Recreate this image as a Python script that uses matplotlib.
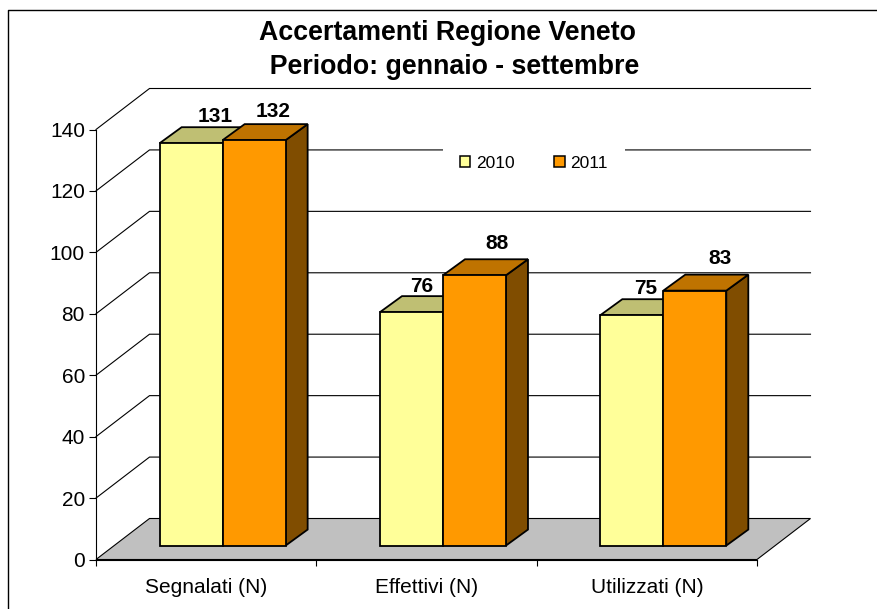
import numpy as np
import matplotlib
matplotlib.use("Agg")
import matplotlib.pyplot as plt
from matplotlib.patches import Polygon, Patch
from matplotlib.lines import Line2D

plt.rcParams['font.family'] = ['Liberation Sans', 'DejaVu Sans']

categories = ["Segnalati (N)", "Effettivi (N)", "Utilizzati (N)"]
series_names = ["2010", "2011"]
values_2010 = [131, 76, 75]
values_2011 = [132, 88, 83]
yticks = [0, 20, 40, 60, 80, 100, 120, 140]

# label offsets in pixels, labels were moved by hand in the original
nudge_x_2010 = [24, 10, 14]
nudge_x_2011 = [19, 23, 25]
nudge_y_2010 = [27, 26, 27]
nudge_y_2011 = [29, 32, 32]

W, H = 877, 609
fig = plt.figure(figsize=(W / 100, H / 100), dpi=100)
# axes is the front plane of the fake 3d box
left, right, top, bottom = 96, 757, 129.5, 559.5
ax = fig.add_axes([left / W, 1 - bottom / H, (right - left) / W, (bottom - top) / H])
ax.set_xlim(0, 3)
ax.set_ylim(0, 140)
ax.patch.set_visible(False)

px_x = 3 / (right - left)
px_y = 140 / (bottom - top)
depth_x = 53.5 * px_x
depth_y = 41 * px_y
LINE = 0.8

# chart border, only left and top show in the picture
fig.add_artist(Line2D([7.5 / W, 7.5 / W, 1], [0, 1 - 9.5 / H, 1 - 9.5 / H], transform=fig.transFigure,
                      color='black', lw=1.0))

# floor
ax.add_patch(Polygon([(0, 0), (depth_x, depth_y), (3 + depth_x, depth_y), (3, 0)], closed=True,
                     fc='#C0C0C0', ec='black', lw=LINE, clip_on=False, zorder=1))

# wall gridlines
for v in yticks[1:]:
    ax.plot([0, depth_x, 3 + depth_x], [v, v + depth_y, v + depth_y], color='black', lw=LINE,
            clip_on=False, zorder=1, solid_joinstyle='miter')

ox = 0.336 * depth_x
oy = 0.34 * depth_y


def bar3d(x0, x1, v, face, topc, side):
    dx = 22 * px_x
    dy = 16 * px_y
    kw = dict(closed=True, ec='black', lw=1.3, clip_on=False, zorder=3, joinstyle='miter')
    ax.add_patch(Polygon([(x1 + ox, oy), (x1 + ox + dx, oy + dy), (x1 + ox + dx, v + oy + dy), (x1 + ox, v + oy)], fc=side, **kw))
    ax.add_patch(Polygon([(x0 + ox, v + oy), (x0 + ox + dx, v + oy + dy), (x1 + ox + dx, v + oy + dy), (x1 + ox, v + oy)], fc=topc, **kw))
    ax.add_patch(Polygon([(x0 + ox, oy), (x1 + ox, oy), (x1 + ox, v + oy), (x0 + ox, v + oy)], fc=face, **kw))


bw = 63 * px_x
for i in range(len(categories)):
    c = i + 0.5 - 1.5 * px_x
    bar3d(c - bw, c, values_2010[i], '#FFFF99', '#BFBF73', '#808040')
    bar3d(c, c + bw, values_2011[i], '#FF9900', '#BF7300', '#804D00')
    labels = [(values_2010[i], c - bw / 2, nudge_x_2010[i], nudge_y_2010[i]),
              (values_2011[i], c + bw / 2, nudge_x_2011[i], nudge_y_2011[i])]
    for v, xc, nx, ny in labels:
        ax.annotate(str(v), xy=(xc + ox, v + oy), xytext=(nx * 0.72, ny * 0.72), textcoords='offset points',
                    ha='center', va='center', fontsize=15, fontweight='bold', zorder=5, annotation_clip=False)

ax.spines['top'].set_visible(False)
ax.spines['right'].set_visible(False)
ax.spines['left'].set_linewidth(LINE)
ax.spines['bottom'].set_linewidth(LINE)
ax.spines['left'].set_zorder(2)
ax.spines['bottom'].set_zorder(2)
ax.set_yticks(yticks)
ax.set_xticks([0, 1, 2, 3])
ax.set_xticklabels([])
ax.set_xticks([0.5, 1.5, 2.5], minor=True)
ax.set_xticklabels(categories, minor=True)
ax.tick_params(axis='y', length=5, width=LINE, labelsize=15, pad=3)
ax.tick_params(axis='x', which='major', length=4.5, width=LINE)
ax.tick_params(axis='x', which='minor', length=0, labelsize=15, pad=13)

handles = [Patch(fc='#FFFF99', ec='black', lw=1.1), Patch(fc='#FF9900', ec='black', lw=1.1)]
leg = ax.legend(handles, series_names, ncol=2, loc='center', bbox_to_anchor=(534 / W, 1 - 163 / H),
                bbox_transform=fig.transFigure, frameon=True, framealpha=1, edgecolor='none', fancybox=False,
                fontsize=12.5, handlelength=0.6, handleheight=0.6, handletextpad=0.35, columnspacing=2.25,
                borderpad=1.0, borderaxespad=0)
leg.set_zorder(2.5)

fig.text(447 / W, 1 - 49.5 / H, "Accertamenti Regione Veneto\n  Periodo: gennaio - settembre", ha='center', va='center',
         fontsize=19.25, fontweight='bold', linespacing=1.4)

fig.savefig("out.png", dpi=100)
